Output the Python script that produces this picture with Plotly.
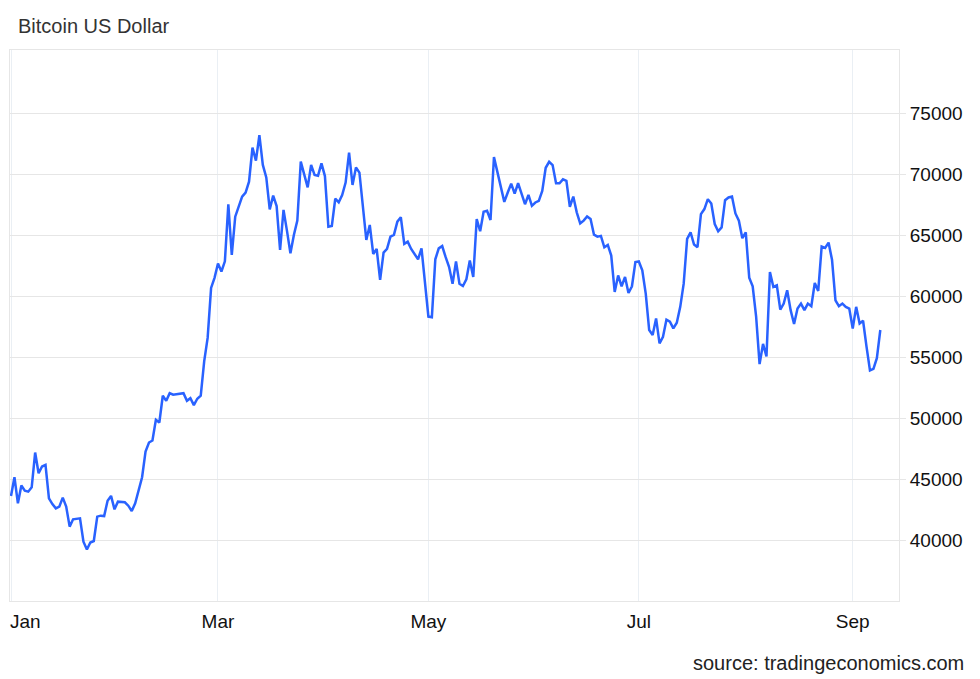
"""Bitcoin US Dollar daily close, Jan - Sep 2024 (tradingeconomics style)."""
import pandas as pd
import plotly.graph_objects as go

# daily closes, one list per month
jan = [43620, 45150, 43010, 44470, 44050, 43970, 44330, 47180, 45480, 46030,
       46160, 43420, 42950, 42600, 42740, 43480, 42740, 41100, 41700, 41750,
       41780, 39860, 39230, 39800, 39920, 41920, 42000, 41970, 43230, 43620,
       42520]
feb = [43150, 43150, 43100, 42820, 42380, 43010, 44050, 45150, 47260, 48000,
       48160, 49860, 49640, 51840, 51420, 52050, 51920, 51950, 51980, 52050,
       51420, 51640, 51070, 51590, 51840, 54660, 56580, 60680, 61510]
mar = [62680, 62030, 62860, 67540, 63390, 66530, 67400, 68170, 68500, 69400,
       72190, 71120, 73220, 70770, 69750, 67130, 68250, 67400, 63800, 67080,
       65360, 63520, 65030, 66200, 71040, 69950, 68930, 70770, 69950, 69890,
       70900]
apr = [69860, 65710, 65770, 68000, 67700, 68300, 69320, 71780, 69130, 70570,
       70140, 67080, 64620, 65850, 63470, 63880, 61340, 63580, 63880, 64890,
       65030, 66120, 66480, 64290, 64480, 63880, 63470, 63030, 63930, 60790]
may = [58330, 58280, 63030, 63930, 64120, 63200, 62390, 61030, 62850, 61030,
       60840, 61390, 62930, 61580, 66330, 65330, 66930, 67010, 66250, 71410,
       70220, 68970, 67740, 68510, 69240, 68420, 69270, 68420, 67550, 68310,
       67420]
jun = [67690, 67830, 68640, 70540, 71030, 70760, 69270, 69270, 69590, 69460,
       67340, 68180, 66880, 65980, 66200, 66550, 66330, 65050, 64890, 64950,
       64020, 64210, 63340, 60350, 61710, 60820, 61580, 60270, 60820, 62800]
jul = [62850, 62120, 60220, 57230, 56820, 58180, 56140, 56680, 58070, 57910,
       57360, 57830, 59130, 61030, 64700, 65240, 64240, 64020, 66740, 67150,
       67960, 67610, 65920, 65330, 65650, 67880, 68100, 68180, 66790, 66200,
       64760]
aug = [65240, 61520, 60820, 58320, 54430, 56090, 55060, 61980, 60760, 60900,
       58910, 59400, 60490, 58860, 57720, 58990, 59400, 58860, 59400, 59180,
       61090, 60430, 64080, 63970, 64400, 62990, 59670, 59180, 59400, 59130,
       58990]
sep = [57360, 59130, 57770, 57990, 55870, 53910, 54050, 54920, 57230]

month_ticks = ["2024-01-01", "2024-03-01", "2024-05-01", "2024-07-01", "2024-09-01"]
# "Jan" sits on the left edge; it is drawn as an annotation further down
month_labels = ["", "Mar", "May", "Jul", "Sep"]
price_ticks = [40000, 45000, 50000, 55000, 60000, 65000, 70000, 75000]

prices = jan + feb + mar + apr + may + jun + jul + aug + sep
dates = pd.date_range("2024-01-01", periods=len(prices), freq="D")

FONT = "Liberation Sans, Arial, sans-serif"
GRID = "#e6e6e6"

# page body has an 8px margin, so the figure is 8px smaller each way
W, H = 972, 671
PLOT_W, PLOT_H = 889, 551

fig = go.Figure(
    go.Scatter(
        x=dates,
        y=prices,
        mode="lines",
        line=dict(color="#2962ff", width=2.5),
        hoverinfo="skip",
    )
)

fig.update_layout(
    width=W,
    height=H,
    paper_bgcolor="white",
    plot_bgcolor="white",
    showlegend=False,
    margin=dict(l=2, r=81, t=42, b=78),
    font=dict(family=FONT, size=19, color="#111"),
    title=dict(
        text="Bitcoin US Dollar",
        x=10 / W,
        xanchor="left",
        y=1 - 18 / H,
        yanchor="middle",
        font=dict(family=FONT, size=20, color="#333"),
    ),
    xaxis=dict(
        range=["2023-12-31 17:00", "2024-09-14 10:00"],
        tickvals=month_ticks,
        ticktext=month_labels,
        ticklabelstandoff=3,
        automargin=False,
        showgrid=True,
        gridcolor="#eaeff4",
        showline=True,
        linecolor=GRID,
        mirror=True,
        zeroline=False,
        tickfont=dict(size=19, color="#111"),
    ),
    yaxis=dict(
        side="right",
        range=[35000, 80200],
        tickvals=price_ticks,
        tickformat="d",
        automargin=False,
        showgrid=True,
        gridcolor=GRID,
        showline=True,
        linecolor=GRID,
        mirror=True,
        zeroline=False,
        ticks="outside",
        ticklen=6,
        tickcolor=GRID,
        tickfont=dict(size=19, color="#111"),
    ),
)

fig.add_annotation(
    text="Jan",
    xref="paper",
    yref="paper",
    x=0,
    xshift=-2,
    y=-20 / PLOT_H,
    xanchor="left",
    yanchor="middle",
    showarrow=False,
    font=dict(family=FONT, size=19, color="#111"),
)

fig.add_annotation(
    text="source: tradingeconomics.com",
    xref="paper",
    yref="paper",
    x=(966 - 10) / PLOT_W,
    y=-62 / PLOT_H,
    xanchor="right",
    yanchor="middle",
    showarrow=False,
    font=dict(family=FONT, size=20, color="#222"),
)

fig.write_html("out.html")
